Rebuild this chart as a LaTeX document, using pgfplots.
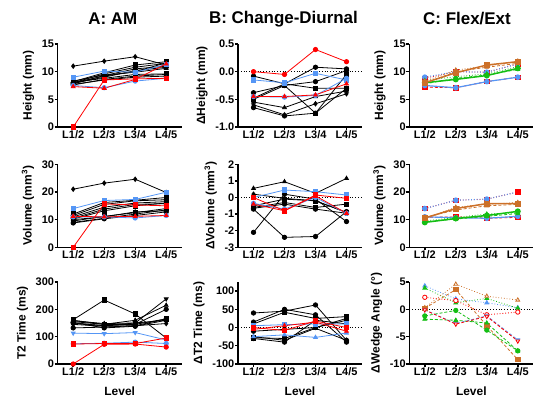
\documentclass[border=0pt]{standalone}
\usepackage{fontspec}
\setmainfont{Liberation Sans}
\usepackage{pgfplots}
\pgfplotsset{compat=1.18}
\definecolor{bl}{RGB}{85,150,245}
\definecolor{rd}{RGB}{255,0,0}
\definecolor{br}{RGB}{204,112,40}
\definecolor{gr}{RGB}{20,190,20}
\newcommand{\p}[5]{\addplot[#1] coordinates {(0,#2)(1,#3)(2,#4)(3,#5)};}
\pgfplotsset{
 panel/.style={scale only axis, width=124bp, height=83bp, xmin=-0.5, xmax=3.5,
  xtick={0,1,2,3}, xticklabels={L1/2,L2/3,L3/4,L4/5},
  axis lines=left, axis line style={-, line width=1.4bp},
  tick align=outside, major tick length=3bp, tick style={line width=1.4bp, black},
  /pgf/number format/assume math mode=true,
  tick label style={font=\bfseries\fontsize{11}{12}\selectfont, inner sep=0.5bp},
  label style={font=\bfseries\fontsize{12}{14}\selectfont},
  ylabel style={inner sep=7bp},
  xlabel style={yshift=-7bp},
  every axis plot/.append style={line width=0.8bp, mark size=2.2bp},
  clip=false},
 kc/.style={black, mark=*, mark options={solid, fill=black}},
 ks/.style={black, mark=square*, mark options={solid, fill=black}},
 kt/.style={black, mark=triangle*, mark options={solid, fill=black}},
 kd/.style={black, mark=diamond*, mark options={solid, fill=black}},
 kv/.style={black, mark=triangle*, mark options={solid, fill=black, rotate=180}},
 bs/.style={bl, mark=square*, mark options={solid, fill=bl}},
 bc/.style={bl, mark=*, mark options={solid, fill=bl}},
 bv/.style={bl, mark=triangle*, mark options={solid, fill=bl, rotate=180}},
 bt/.style={bl, mark=triangle*, mark options={solid, fill=bl}},
 rs/.style={rd, mark=square*, mark options={solid, fill=rd}},
 rc/.style={rd, mark=*, mark options={solid, fill=rd}},
 rt/.style={rd, mark=triangle*, mark options={solid, fill=rd}},
 zero/.style={black, dotted, line width=1bp, mark=none, forget plot},
}
\begin{document}
\begin{tikzpicture}
\useasboundingbox (0,0) rectangle (538bp,403bp);
\node[font=\bfseries\fontsize{17}{20}\selectfont] at (112.8bp,384bp) {A: AM};
\node[font=\bfseries\fontsize{17}{20}\selectfont] at (283.5bp,384bp) {B: Change-Diurnal};
\node[font=\bfseries\fontsize{17}{20}\selectfont] at (467bp,384bp) {C: Flex/Ext};

% ---------- A1 ----------
\begin{axis}[panel, at={(57.7bp,276bp)}, anchor=south west, ymin=0, ymax=15, ytick={0,5,10,15}, ylabel={Height (mm)}]
\p{kd}{11.0}{11.9}{12.7}{11.2}
\p{ks}{8.2}{9.8}{11.2}{11.8}
\p{kc}{8.0}{9.6}{10.8}{11.5}
\p{kt}{7.8}{9.3}{10.5}{11.0}
\p{kc}{7.9}{9.0}{10.2}{10.8}
\p{ks}{8.1}{8.8}{9.5}{9.6}
\p{kd}{7.6}{8.6}{9.2}{9.5}
\p{kt}{8.3}{9.4}{9.9}{10.6}
\p{kc}{7.7}{8.5}{9.0}{9.2}
\p{ks}{8.0}{9.2}{10.0}{11.6}
\p{bs}{9.0}{10.1}{9.9}{11.3}
\p{bc}{7.5}{7.1}{8.3}{8.8}
\p{rt}{7.3}{7.0}{8.6}{11.4}
\p{rs}{0}{8.5}{8.7}{8.8}
\end{axis}

% ---------- B1 ----------
\begin{axis}[panel, at={(238bp,276bp)}, anchor=south west, ymin=-1, ymax=0.5, ytick={-1,-0.5,0,0.5},
 yticklabel style={/pgf/number format/.cd, fixed, fixed zerofill, precision=1}, ylabel={ΔHeight (mm)}]
\addplot[zero] coordinates {(-0.5,0)(3.5,0)};
\p{kc}{-0.08}{-0.22}{0.08}{0.05}
\p{kc}{-0.38}{-0.25}{-0.18}{0.02}
\p{ks}{-0.48}{-0.22}{-0.30}{-0.30}
\p{kt}{-0.55}{-0.65}{-0.45}{-0.35}
\p{kd}{-0.60}{-0.78}{-0.58}{-0.40}
\p{kc}{-0.65}{-0.80}{-0.75}{-0.30}
\p{ks}{-0.50}{-0.25}{-0.75}{-0.05}
\p{bs}{-0.15}{-0.20}{-0.03}{-0.15}
\p{bc}{-0.45}{-0.46}{-0.43}{-0.12}
\p{rt}{-0.45}{-0.45}{-0.42}{-0.22}
\p{rc}{0.0}{-0.05}{0.40}{0.18}
\end{axis}

% ---------- C1 ----------
\begin{axis}[panel, at={(409.3bp,276bp)}, anchor=south west, ymin=0, ymax=15, ytick={0,5,10,15}, ylabel={Height (mm)}]
\p{rd, densely dashed, mark=square*, mark options={solid, fill=rd}}{7.2}{7.1}{8.2}{9.0}
\p{bl, line width=1.2bp, mark=*, mark options={solid, fill=bl}}{7.5}{7.1}{8.2}{9.0}
\p{rd, dotted, mark=square*, mark options={solid, fill=rd}}{8.8}{10.0}{9.9}{11.4}
\p{bl, dotted, line width=1.2bp, mark=*, mark options={solid, fill=bl}}{9.0}{10.0}{9.9}{11.4}
\p{gr, densely dashed, mark=triangle*, mark options={solid, fill=gr}}{7.8}{8.8}{9.4}{10.4}
\p{gr, dotted, mark=triangle*, mark options={solid, fill=gr}}{8.4}{9.1}{9.6}{10.9}
\p{gr, line width=1.5bp, mark=*, mark options={solid, fill=gr}}{8.0}{8.6}{9.3}{10.6}
\p{br, densely dashed, mark=triangle*, mark options={solid, fill=br}}{7.9}{10.0}{10.8}{11.5}
\p{br, dotted, mark=triangle*, mark options={solid, fill=br}}{8.3}{10.3}{11.0}{11.9}
\p{br, line width=1.5bp, mark=square*, mark options={solid, fill=br}}{8.0}{9.8}{11.2}{11.8}
\end{axis}

% ---------- A2 ----------
\begin{axis}[panel, at={(57.7bp,155.7bp)}, anchor=south west, ymin=0, ymax=30, ytick={0,10,20,30}, ylabel={Volume (mm\textsuperscript{3})}]
\p{kd}{21.0}{23.2}{24.6}{19.8}
\p{ks}{12.0}{16.2}{17.0}{18.0}
\p{kc}{11.5}{15.5}{16.8}{17.2}
\p{kt}{11.0}{14.5}{16.0}{16.5}
\p{kc}{10.5}{13.8}{15.5}{15.8}
\p{ks}{9.5}{11.2}{12.5}{14.0}
\p{kd}{9.0}{10.5}{12.0}{13.5}
\p{kc}{8.8}{10.3}{11.5}{12.8}
\p{kt}{10.0}{11.0}{12.8}{13.2}
\p{ks}{10.2}{13.2}{15.0}{16.0}
\p{bs}{14.0}{16.9}{17.3}{19.9}
\p{bc}{11.0}{11.0}{10.6}{11.5}
\p{rt}{11.2}{11.0}{11.2}{11.5}
\p{rs}{0}{15.7}{15.3}{15.0}
\end{axis}

% ---------- B2 ----------
\begin{axis}[panel, at={(238bp,155.7bp)}, anchor=south west, ymin=-3, ymax=2, ytick={-3,-2,-1,0,1,2}, ylabel={ΔVolume (mm\textsuperscript{3})}]
\addplot[zero] coordinates {(-0.5,0)(3.5,0)};
\p{kt}{0.55}{0.95}{0.25}{1.15}
\p{kc}{-2.1}{0.2}{-0.1}{-1.45}
\p{kc}{-0.7}{-2.4}{-2.35}{-0.85}
\p{ks}{-0.6}{-0.3}{-0.6}{-0.4}
\p{ks}{-0.5}{-0.1}{-0.2}{-0.9}
\p{kd}{0.2}{-0.05}{-0.2}{-0.9}
\p{kc}{-0.65}{-0.4}{-0.7}{-0.95}
\p{bs}{0.0}{0.45}{0.35}{0.15}
\p{bc}{-0.35}{-0.7}{0.0}{-0.95}
\p{rt}{-0.4}{-0.8}{0.1}{-0.95}
\p{rs}{0.0}{-0.8}{0.15}{-0.05}
\end{axis}

% ---------- C2 ----------
\begin{axis}[panel, at={(409.3bp,155.7bp)}, anchor=south west, ymin=0, ymax=30, ytick={0,10,20,30}, ylabel={Volume (mm\textsuperscript{3})}]
\p{rd, densely dashed, mark=square*, mark options={solid, fill=rd}}{10.8}{11.0}{10.5}{10.8}
\p{bl, line width=1.2bp, mark=*, mark options={solid, fill=bl}}{11.0}{10.7}{10.5}{11.2}
\p{rd, dotted, mark=square*, mark options={solid, fill=rd}}{14.0}{17.0}{17.4}{20.0}
\p{bl, dotted, line width=1.2bp, mark=*, mark options={solid, fill=bl}}{14.0}{17.0}{17.4}{20.0}
\p{gr, densely dashed, mark=triangle*, mark options={solid, fill=gr}}{9.2}{10.2}{11.2}{12.2}
\p{gr, dotted, mark=triangle*, mark options={solid, fill=gr}}{9.5}{10.8}{12.0}{12.5}
\p{gr, line width=1.5bp, mark=*, mark options={solid, fill=gr}}{9.0}{10.4}{11.5}{13.0}
\p{br, densely dashed, mark=triangle*, mark options={solid, fill=br}}{10.8}{13.5}{15.0}{15.5}
\p{br, dotted, mark=triangle*, mark options={solid, fill=br}}{10.4}{14.5}{15.5}{16.2}
\p{br, line width=1.5bp, mark=square*, mark options={solid, fill=br}}{10.6}{14.0}{15.8}{15.8}
\addplot[rd, only marks, mark=square*, mark options={fill=rd}] coordinates {(3,20.0)};
\end{axis}

% ---------- A3 ----------
\begin{axis}[panel, height=82bp, at={(57.7bp,39bp)}, anchor=south west, ymin=0, ymax=300, ytick={0,100,200,300}, ylabel={T2 Time (ms)}, xlabel={Level}]
\p{ks}{162}{234}{183}{95}
\p{kv}{150}{140}{150}{238}
\p{kt}{155}{145}{160}{215}
\p{kc}{150}{140}{145}{200}
\p{kc}{132}{135}{140}{165}
\p{ks}{160}{145}{145}{165}
\p{kd}{145}{138}{140}{148}
\p{kt}{158}{148}{150}{160}
\p{kc}{152}{132}{138}{160}
\p{bv}{113}{111}{115}{88}
\p{bc}{74}{76}{80}{75}
\p{rs}{73}{75}{75}{95}
\p{rc}{0}{72}{73}{62}
\end{axis}

% ---------- B3 ----------
\begin{axis}[panel, height=82bp, at={(238bp,39bp)}, anchor=south west, ymin=-100, ymax=125, ytick={-100,-50,0,50,100}, ylabel={ΔT2 Time (ms)}, xlabel={Level}]
\addplot[zero] coordinates {(-0.5,0)(3.5,0)};
\p{kc}{40}{45}{62}{-35}
\p{kc}{15}{50}{35}{-40}
\p{ks}{10}{42}{25}{30}
\p{kc}{-10}{-5}{0}{20}
\p{ks}{-28}{-30}{0}{25}
\p{kc}{-30}{-40}{20}{10}
\p{kt}{-25}{-35}{-2}{-35}
\p{bs}{5}{8}{10}{10}
\p{bt}{-25}{-20}{-27}{-15}
\p{rt}{-5}{5}{15}{-10}
\p{rs}{0}{-8}{18}{0}
\end{axis}

% ---------- C3 ----------
\begin{axis}[panel, height=82bp, at={(409.3bp,39bp)}, anchor=south west, ymin=-10, ymax=5, ytick={-10,-5,0,5}, ylabel={ΔWedge Angle (°)}, xlabel={Level}]
\addplot[zero] coordinates {(-0.5,0)(3.5,0)};
\p{bl, dotted, mark=triangle*, mark options={solid, fill=bl}}{4.3}{1.9}{1.2}{0.3}
\p{gr, dotted, mark=triangle*, mark options={solid, fill=gr}}{3.9}{1.2}{2.0}{0.2}
\p{rd, dotted, mark=*, mark options={solid, fill=white}}{2.2}{1.6}{-1.0}{-0.5}
\p{br, dotted, mark=triangle*, mark options={solid, fill=white}}{0.3}{4.6}{2.4}{1.7}
\p{br, densely dashed, mark=square*, mark options={solid, fill=br}}{0.2}{3.6}{-3.0}{-9.2}
\p{gr, densely dashed, mark=*, mark options={solid, fill=gr}}{-1.2}{-0.2}{-3.8}{-7.6}
\p{gr, densely dashed, mark=triangle*, mark options={solid, fill=gr}}{-1.8}{-2.0}{-2.5}{-7.6}
\p{bl, densely dashed, mark=triangle*, mark options={solid, fill=bl, rotate=180}}{-0.1}{-2.6}{-1.2}{-5.6}
\p{rd, densely dashed, mark=triangle*, mark options={solid, fill=white, rotate=180}}{-0.1}{-2.7}{-1.3}{-5.8}
\end{axis}
\end{tikzpicture}
\end{document}
